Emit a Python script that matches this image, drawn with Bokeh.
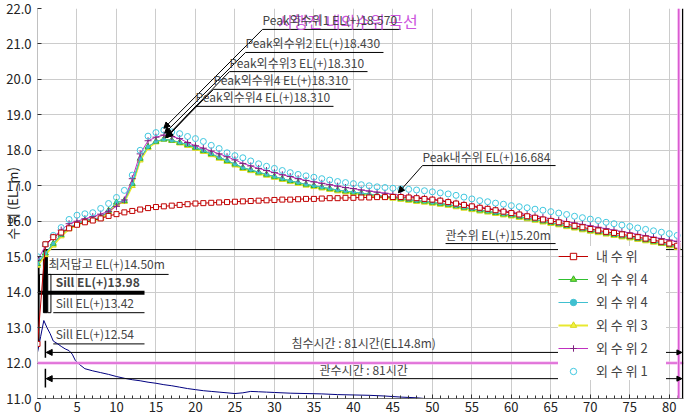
import math
from bokeh.plotting import figure
from bokeh.models import (Range1d, FixedTicker, PrintfTickFormatter, Label, Arrow,
                          NormalHead, Span, Legend, LegendItem)
from bokeh.embed import file_html
from bokeh.resources import INLINE

# ---------------- data ----------------
hours = list(range(82))

inner = [12.54, 15.35, 15.55, 15.68, 15.80, 15.90, 15.97, 16.02, 16.08, 16.15,
         16.20, 16.25, 16.29, 16.33, 16.37, 16.40, 16.42, 16.44, 16.46, 16.48,
         16.50, 16.51, 16.52, 16.53, 16.54, 16.55, 16.56, 16.57, 16.58, 16.59,
         16.60, 16.61, 16.61, 16.62, 16.63, 16.63, 16.64, 16.65, 16.65, 16.66,
         16.66, 16.67, 16.67, 16.68, 16.68, 16.683, 16.684, 16.67, 16.65, 16.63,
         16.61, 16.58, 16.54, 16.50, 16.46, 16.42, 16.38, 16.35, 16.31, 16.27,
         16.23, 16.19, 16.14, 16.10, 16.05, 16.01, 15.97, 15.92, 15.87, 15.83,
         15.78, 15.74, 15.70, 15.67, 15.63, 15.59, 15.55, 15.51, 15.47, 15.42,
         15.37, 15.31]

outer1 = [15.00, 15.35, 15.60, 15.82, 16.05, 16.17, 16.21, 16.24, 16.36, 16.50,
          16.67, 16.87, 17.30, 18.00, 18.40, 18.50, 18.57, 18.52, 18.47, 18.39,
          18.33, 18.25, 18.14, 18.05, 17.93, 17.85, 17.79, 17.70, 17.62, 17.55,
          17.49, 17.43, 17.37, 17.32, 17.28, 17.24, 17.20, 17.16, 17.12, 17.09,
          17.06, 17.03, 17.00, 16.97, 16.95, 16.93, 16.91, 16.90, 16.88, 16.86,
          16.83, 16.80, 16.77, 16.73, 16.68, 16.63, 16.58, 16.55, 16.51, 16.48,
          16.44, 16.41, 16.38, 16.34, 16.31, 16.27, 16.23, 16.19, 16.14, 16.10,
          16.06, 16.02, 15.97, 15.93, 15.89, 15.85, 15.81, 15.77, 15.73, 15.69,
          15.65, 15.60]

outer2 = [14.90, 15.30, 15.55, 15.75, 15.93, 16.00, 16.07, 16.13, 16.20, 16.28,
          16.42, 16.60, 17.20, 17.90, 18.27, 18.37, 18.43, 18.39, 18.33, 18.22,
          18.13, 18.06, 17.98, 17.90, 17.82, 17.73, 17.63, 17.56, 17.49, 17.43,
          17.37, 17.31, 17.26, 17.20, 17.15, 17.11, 17.07, 17.03, 16.99, 16.95,
          16.92, 16.88, 16.85, 16.82, 16.79, 16.76, 16.73, 16.71, 16.68, 16.65,
          16.62, 16.59, 16.55, 16.51, 16.47, 16.43, 16.40, 16.36, 16.33, 16.29,
          16.26, 16.22, 16.19, 16.15, 16.11, 16.07, 16.03, 15.99, 15.95, 15.91,
          15.87, 15.83, 15.79, 15.75, 15.71, 15.67, 15.63, 15.59, 15.55, 15.51,
          15.47, 15.43]

outer3 = [14.75, 15.05, 15.32, 15.58, 15.78, 15.90, 15.99, 16.03, 16.07, 16.25,
          16.48, 16.55, 17.00, 17.72, 18.07, 18.23, 18.31, 18.27, 18.20, 18.13,
          18.05, 17.96, 17.87, 17.77, 17.68, 17.58, 17.48, 17.42, 17.35, 17.29,
          17.23, 17.17, 17.11, 17.06, 17.01, 16.97, 16.93, 16.89, 16.85, 16.82,
          16.79, 16.76, 16.73, 16.70, 16.67, 16.64, 16.61, 16.58, 16.55, 16.53,
          16.50, 16.47, 16.44, 16.40, 16.36, 16.32, 16.28, 16.25, 16.21, 16.17,
          16.14, 16.10, 16.06, 16.02, 15.97, 15.93, 15.89, 15.84, 15.80, 15.75,
          15.71, 15.67, 15.63, 15.59, 15.55, 15.52, 15.48, 15.44, 15.40, 15.35,
          15.30, 15.25]

outer4 = [14.80, 15.10, 15.37, 15.62, 15.82, 15.93, 16.02, 16.06, 16.10, 16.30,
          16.53, 16.58, 17.06, 17.77, 18.10, 18.25, 18.31, 18.28, 18.22, 18.16,
          18.08, 17.99, 17.90, 17.80, 17.71, 17.61, 17.51, 17.45, 17.38, 17.32,
          17.26, 17.20, 17.14, 17.09, 17.04, 17.00, 16.96, 16.92, 16.88, 16.85,
          16.82, 16.79, 16.76, 16.73, 16.70, 16.67, 16.64, 16.61, 16.58, 16.56,
          16.53, 16.50, 16.47, 16.43, 16.39, 16.35, 16.31, 16.28, 16.24, 16.20,
          16.17, 16.13, 16.09, 16.05, 16.00, 15.96, 15.92, 15.87, 15.83, 15.78,
          15.74, 15.70, 15.66, 15.62, 15.58, 15.55, 15.51, 15.47, 15.43, 15.38,
          15.33, 15.28]

# second "외수위4" series (cyan line, coincides with the green one)
outer4b = outer4

# navy curve at the bottom
drain_t = [0, 0.4, 0.8, 1.2, 1.6, 2.0, 2.5, 3.0, 3.5, 4.0, 4.4, 4.8, 5.2, 6, 7, 8,
           9, 10, 11, 12, 13, 14, 15, 16, 17, 18, 19, 20, 21, 22, 23, 24, 25, 26,
           27, 28, 29, 30, 32, 34, 36, 38, 40, 42, 44, 46, 48, 49, 50]
drain_v = [12.30, 12.75, 13.20, 13.00, 12.83, 12.62, 12.55, 12.47, 12.40, 12.35,
           12.25, 12.07, 11.98, 11.84, 11.78, 11.73, 11.68, 11.62, 11.57, 11.53,
           11.50, 11.46, 11.43, 11.39, 11.36, 11.32, 11.28, 11.25, 11.22, 11.20,
           11.18, 11.16, 11.14, 11.16, 11.20, 11.19, 11.18, 11.17, 11.15, 11.14,
           11.13, 11.11, 11.10, 11.09, 11.07, 11.04, 11.02, 11.00, 10.97]

x_ticks = list(range(0, 81, 5))
y_ticks = [11.0, 12.0, 13.0, 14.0, 15.0, 16.0, 17.0, 18.0, 19.0, 20.0, 21.0, 22.0]

peak_t = 16
peak_values = [18.57, 18.43, 18.31, 18.31, 18.31]
peak_texts = ["Peak외수위1 EL(+)18.570", "Peak외수위2 EL(+)18.430",
              "Peak외수위3 EL(+)18.310", "Peak외수위4 EL(+)18.310",
              "Peak외수위4 EL(+)18.310"]
inner_peak_t = 46
inner_peak_v = 16.684
gwan_level = 15.20
crest_level = 14.50
sill_levels = [13.98, 13.42, 12.54]
flood_level = 12.0
title_text = "시행전 내외수위 곡선"

FONT = "Noto Sans CJK KR"

# ---------------- figure ----------------
p = figure(width=692, height=417, x_range=Range1d(0, 81.8), y_range=Range1d(11, 22),
           output_backend="svg", toolbar_location=None,
           min_border_left=37, min_border_right=9, min_border_top=8, min_border_bottom=19)
p.outline_line_color = None
p.background_fill_color = "white"
p.border_fill_color = "white"

p.xaxis.ticker = FixedTicker(ticks=x_ticks, minor_ticks=list(range(0, 82)))
p.yaxis.ticker = FixedTicker(ticks=y_ticks)
p.yaxis.formatter = PrintfTickFormatter(format="%.1f")
p.xgrid.grid_line_color = "#cccccc"
p.ygrid.grid_line_color = "#cccccc"

for ax in (p.xaxis[0], p.yaxis[0]):
    ax.major_label_text_font = FONT
    ax.major_label_text_font_size = "13px"
    ax.major_label_text_color = "#222222"
    ax.major_tick_out = 0
    ax.major_tick_in = 4
    ax.minor_tick_out = 0
    ax.minor_tick_in = 3
    ax.major_tick_line_color = "#333333"
    ax.minor_tick_line_color = "#333333"
p.yaxis.minor_tick_line_color = None
p.yaxis.axis_line_color = "#c0c0c0"
p.xaxis.axis_line_color = "#707070"
p.yaxis.major_label_standoff = 6
p.xaxis.major_label_standoff = 3

# y axis title squeezed into the tick-label column, as in the reference
p.yaxis.axis_label = "수 위 (EL_m)"
p.yaxis.axis_label_text_font = FONT
p.yaxis.axis_label_text_font_size = "13px"
p.yaxis.axis_label_text_font_style = "normal"
p.yaxis.axis_label_text_color = "#222222"
p.yaxis.axis_label_standoff = -19

# title and x axis title
p.add_layout(Label(x=39.3, y=21.66, text=title_text, text_font=FONT, text_font_size="16px",
                   text_color="#cc55dd", text_align="center", text_baseline="middle"))
p.add_layout(Label(x=43.8, y=10.63, text="시 간 (hr)", text_font=FONT, text_font_size="13px",
                   text_color="#222222", text_align="center", text_baseline="top"))

# reference lines
p.add_layout(Span(location=flood_level, dimension="width", line_color="#f4b0ee", line_width=3))
p.add_layout(Span(location=flood_level, dimension="width", line_color="#d040c8", line_width=1))
p.add_layout(Span(location=81.2, dimension="height", line_color="#f4b0ee", line_width=3))
p.add_layout(Span(location=81.2, dimension="height", line_color="#d040c8", line_width=1))
p.add_layout(Span(location=81.7, dimension="height", line_color="black", line_width=1.5))

p.segment(x0=[1.0], y0=[gwan_level], x1=[81.7], y1=[gwan_level], line_color="black", line_width=1)

# gate / sill marks on the left
p.quad(left=[-0.2, 0.75], right=[0.2, 1.25], bottom=[sill_levels[2], sill_levels[1]],
       top=[15.0, gwan_level], fill_color="black", line_color="black")
p.quad(left=[0.25, 1.3], right=[0.7, 1.7], bottom=[sill_levels[0], sill_levels[1]],
       top=[crest_level, crest_level], fill_color="white", line_color="black")

# sill / crest labels with underlines
p.segment(x0=[1.4], y0=[crest_level], x1=[16.6], y1=[crest_level], line_color="black", line_width=1)
p.segment(x0=[0.0], y0=[sill_levels[0]], x1=[13.55], y1=[sill_levels[0]], line_color="black", line_width=4)
p.segment(x0=[2.0, 2.0], y0=[sill_levels[1], sill_levels[2]], x1=[13.55, 13.55],
          y1=[sill_levels[1], sill_levels[2]], line_color="black", line_width=1)
p.add_layout(Label(x=1.4, y=crest_level, y_offset=2, text="최저답고 EL(+)%.2fm" % crest_level,
                   text_font=FONT, text_font_size="12px", text_baseline="bottom"))
p.add_layout(Label(x=2.3, y=sill_levels[0], y_offset=3, text="Sill EL(+)%.2f" % sill_levels[0],
                   text_font=FONT, text_font_size="12px", text_font_style="bold", text_baseline="bottom"))
for lv in sill_levels[1:]:
    p.add_layout(Label(x=2.3, y=lv, y_offset=2, text="Sill EL(+)%.2f" % lv,
                       text_font=FONT, text_font_size="12px", text_baseline="bottom"))

# series
drain = p.line(drain_t, drain_v, line_color="#000080", line_width=1)

y_line = p.line(hours, outer3, line_color="#e8e830", line_width=2)
y_sc = p.scatter(hours, outer3, marker="triangle", size=6,
                 fill_color="#f2f240", line_color="#d8d820")
g_line = p.line(hours, outer4, line_color="#30c030", line_width=1)
g_sc = p.scatter(hours, outer4, marker="triangle", size=6,
                 fill_color="#80dd30", line_color="#30b030")
c_line = p.line(hours, outer4b, line_color="#40c0d0", line_width=1)
c_sc = p.scatter(hours, outer4b, marker="circle", size=3, fill_color="#40c0d0", line_color="#40c0d0")
m_line = p.line(hours, outer2, line_color="#c030c0", line_width=1)
m_sc = p.scatter(hours, outer2, marker="cross", size=7, line_color="#802080")
o1_sc = p.scatter(hours, outer1, marker="circle", size=6, fill_color=None, line_color="#40c8e0")
r_line = p.line(hours, inner, line_color="#c00000", line_width=1)
r_sc = p.scatter(hours, inner, marker="square", size=5, fill_color="white", line_color="#c00000")

# duration arrows
for lv, tlo, thi, txt, tv in [(12.30, 12.15, 12.63, "침수시간 : 81시간(EL14.8m)", 12.58),
                              (11.56, 11.31, 11.84, "관수시간 : 81시간", 11.82)]:
    p.segment(x0=[1.0], y0=[tlo], x1=[1.0], y1=[thi], line_color="black", line_width=1.5)
    p.add_layout(Arrow(x_start=81.6, y_start=lv, x_end=1.1, y_end=lv, line_color="black",
                       line_width=1,
                       end=NormalHead(size=6, fill_color="black", line_color="black"),
                       start=NormalHead(size=5, fill_color="black", line_color="black")))
    p.add_layout(Label(x=41.3, y=tv, text=txt, text_font=FONT, text_font_size="12px",
                       text_align="center", text_baseline="middle"))

# peak annotations (outer)
txt_left = [28.49, 26.34, 24.31, 22.29, 20.01]
txt_right = [45.97, 43.81, 41.79, 39.64, 37.48]
txt_y = [21.41, 20.76, 20.22, 19.72, 19.24]
for i in range(5):
    p.segment(x0=[txt_left[i]], y0=[txt_y[i]], x1=[txt_right[i]], y1=[txt_y[i]],
              line_color="black", line_width=1)
    p.add_layout(Arrow(x_start=txt_left[i], y_start=txt_y[i], x_end=peak_t + 0.1 * i,
                       y_end=peak_values[i] + 0.05, line_color="black", line_width=1,
                       end=NormalHead(size=6, fill_color="black", line_color="black")))
    p.add_layout(Label(x=txt_left[i], y=txt_y[i], y_offset=1, text=peak_texts[i],
                       text_font=FONT, text_font_size="12px", text_baseline="bottom"))

# inner peak annotation
p.segment(x0=[48.75], y0=[17.57], x1=[65.6], y1=[17.57], line_color="black", line_width=1)
p.add_layout(Arrow(x_start=48.75, y_start=17.57, x_end=inner_peak_t - 0.3, y_end=inner_peak_v + 0.12,
                   line_color="black", line_width=1,
                   end=NormalHead(size=6, fill_color="black", line_color="black")))
p.add_layout(Label(x=48.75, y=17.57, y_offset=1, text="Peak내수위 EL(+)%.3f" % inner_peak_v,
                   text_font=FONT, text_font_size="12px", text_baseline="bottom"))

# gwan level label
p.segment(x0=[51.67], y0=[15.37], x1=[65.6], y1=[15.37], line_color="black", line_width=1)
p.add_layout(Label(x=51.67, y=15.37, y_offset=1, text="관수위 EL(+)%.2fm" % gwan_level,
                   text_font=FONT, text_font_size="12px", text_baseline="bottom"))

# legend
legend = Legend(items=[
    LegendItem(label="내 수 위", renderers=[r_line, r_sc]),
    LegendItem(label="외 수 위 4", renderers=[g_line, g_sc]),
    LegendItem(label="외 수 위 4", renderers=[c_line, c_sc]),
    LegendItem(label="외 수 위 3", renderers=[y_line, y_sc]),
    LegendItem(label="외 수 위 2", renderers=[m_line, m_sc]),
    LegendItem(label="외 수 위 1", renderers=[o1_sc]),
], location=(521, 18))
legend.background_fill_color = "white"
legend.background_fill_alpha = 1.0
legend.border_line_color = None
legend.padding = 4
legend.spacing = 4
legend.margin = 0
legend.label_height = 16
legend.glyph_height = 16
legend.glyph_width = 30
legend.label_standoff = 8
legend.label_width = 70
legend.label_text_font = FONT
legend.label_text_font_size = "13px"
p.add_layout(legend)

open("out.html", "w").write(file_html(p, INLINE))
